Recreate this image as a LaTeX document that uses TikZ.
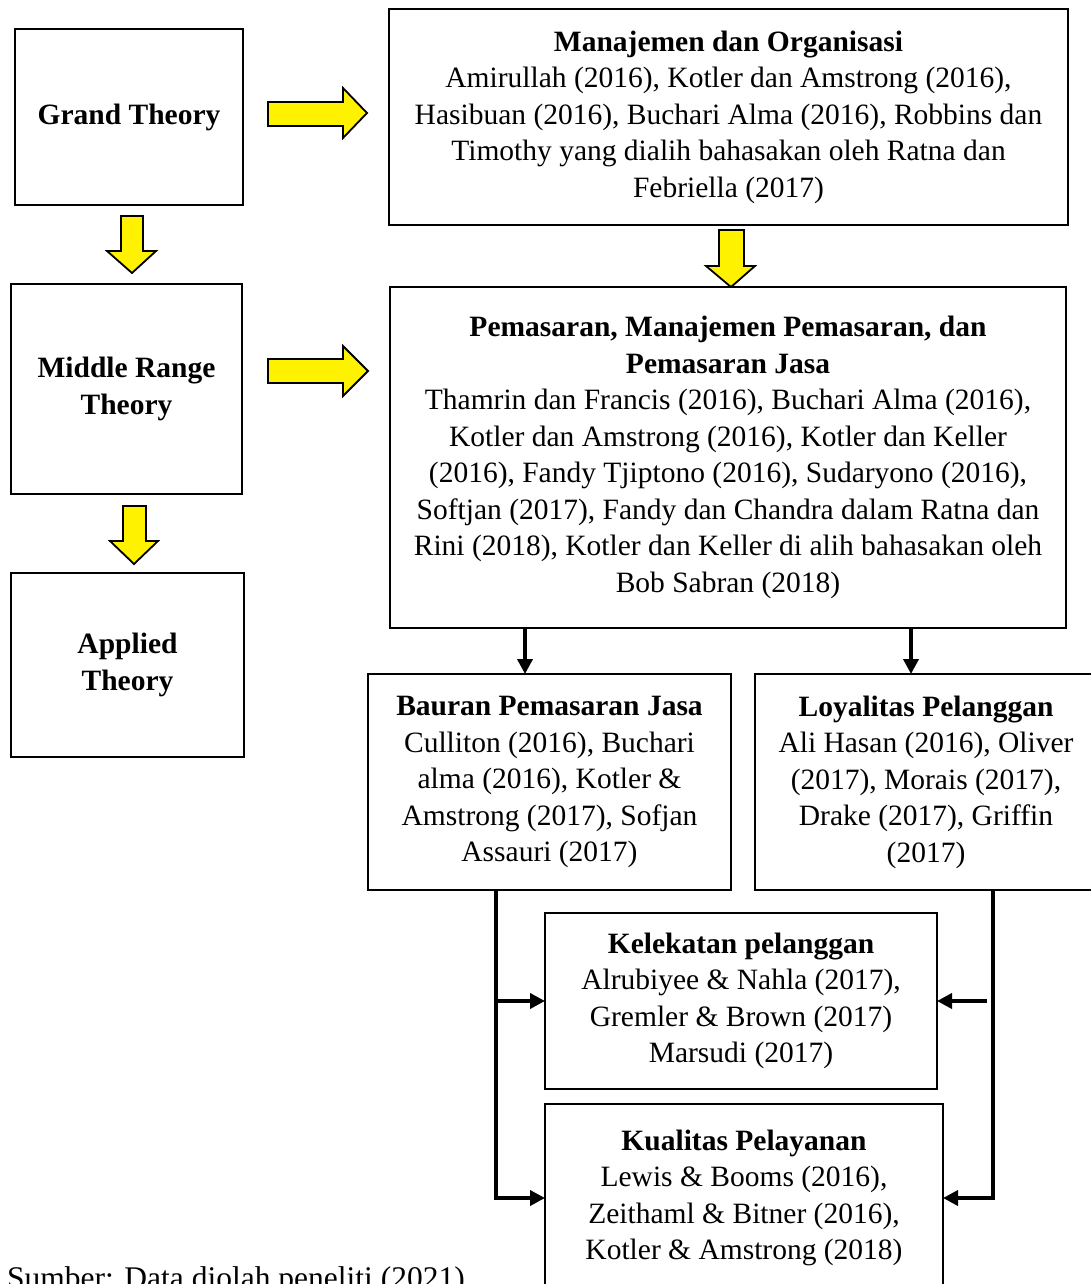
\documentclass[tikz,border=0pt]{standalone}
\usepackage{fontspec}
\setmainfont{Liberation Serif}
\usetikzlibrary{arrows.meta}
\begin{document}
\begin{tikzpicture}[x=1pt,y=-1pt,
  box/.style={draw=black,line width=1.6pt,inner sep=0pt,outer sep=0pt,align=center,
    font=\fontsize{29.5}{36.5}\selectfont},
  yarrow/.style={draw=black,fill=yellow,line width=1.8pt,line join=miter},
  blk/.style={draw=black,line width=3.6pt,-{Triangle[length=15pt,width=15pt]}}]
\useasboundingbox (0,0) rectangle (1091,1284);
\fill[white] (0,0) rectangle (1091,1284);

% left column
\node[box,minimum width=228pt,minimum height=176pt] (G) at (129,117) {\bfseries Grand Theory};
\node[box,minimum width=231pt,minimum height=210pt] (M) at (126.5,389) {\bfseries Middle Range\\\bfseries Theory};
\node[box,minimum width=233pt,minimum height=184pt] (A) at (127.5,665) {\bfseries Applied\\\bfseries Theory};

% right boxes
\node[box,minimum width=679pt,minimum height=216pt] (MO) at (728.5,117)
 {\bfseries Manajemen dan Organisasi\\
  Amirullah (2016), Kotler dan Amstrong (2016),\\
  Hasibuan (2016), Buchari Alma (2016), Robbins dan\\
  Timothy yang dialih bahasakan oleh Ratna dan\\
  Febriella (2017)};
\node[box,minimum width=676pt,minimum height=341pt] (P) at (728,457.5)
 {\bfseries Pemasaran, Manajemen Pemasaran, dan\\
  \bfseries Pemasaran Jasa\\
  Thamrin dan Francis (2016), Buchari Alma (2016),\\
  Kotler dan Amstrong (2016), Kotler dan Keller\\
  (2016), Fandy Tjiptono (2016), Sudaryono (2016),\\
  Softjan (2017), Fandy dan Chandra dalam Ratna dan\\
  Rini (2018), Kotler dan Keller di alih bahasakan oleh\\
  Bob Sabran (2018)};
\node[box,minimum width=363pt,minimum height=216pt] (B) at (549.5,782)
 {\bfseries Bauran Pemasaran Jasa\\
  Culliton (2016), Buchari\\
  alma (2016), Kotler \&\\
  Amstrong (2017), Sofjan\\
  Assauri (2017)};
\node[box,minimum width=342pt,minimum height=216pt] (L) at (926,782)
 {\bfseries Loyalitas Pelanggan\\
  Ali Hasan (2016), Oliver\\
  (2017), Morais (2017),\\
  Drake (2017), Griffin\\
  (2017)};
\node[box,minimum width=392pt,minimum height=176pt] (K) at (741,1001)
 {\bfseries Kelekatan pelanggan\\
  Alrubiyee \& Nahla (2017),\\
  Gremler \& Brown (2017)\\
  Marsudi (2017)};
\node[box,minimum width=398pt,minimum height=188pt] (Q) at (744,1198)
 {\bfseries Kualitas Pelayanan\\
  Lewis \& Booms (2016),\\
  Zeithaml \& Bitner (2016),\\
  Kotler \& Amstrong (2018)};

\node[anchor=base west,inner sep=0pt,font=\fontsize{31.5}{36.5}\selectfont] (src) at (7,1288)
 {Sumber: Data diolah peneliti (2021)};

% yellow block arrows
\draw[yarrow] (268,102) -- (343,102) -- (343,88) -- (367,113) -- (343,138) -- (343,126) -- (268,126) -- cycle;
\draw[yarrow] (268,359) -- (343,359) -- (343,346) -- (368,371) -- (343,396) -- (343,383) -- (268,383) -- cycle;
\draw[yarrow] (121,216) -- (143,216) -- (143,251) -- (156,251) -- (132,273) -- (107,251) -- (121,251) -- cycle;
\draw[yarrow] (123,506) -- (146,506) -- (146,541) -- (158,541) -- (134,564) -- (110,541) -- (123,541) -- cycle;
\draw[yarrow] (719,230) -- (744,230) -- (744,266) -- (755,266) -- (731,287) -- (706,266) -- (719,266) -- cycle;

% black connectors
\coordinate (c1) at (525,0);
\coordinate (c2) at (911,0);
\coordinate (lx) at (496,0);
\coordinate (rx) at (993,0);
\coordinate (rk) at (987,0);
\draw[blk] (P.south -| c1) -- (B.north -| c1);
\draw[blk] (P.south -| c2) -- (L.north -| c2);
\draw[blk] (B.south -| lx) |- (Q.west);
\draw[blk] (lx |- K.west) -- (K.west);
\draw[blk] (L.south -| rx) |- (Q.east);
\draw[blk] (rk |- K.east) -- (K.east);
\end{tikzpicture}
\end{document}
